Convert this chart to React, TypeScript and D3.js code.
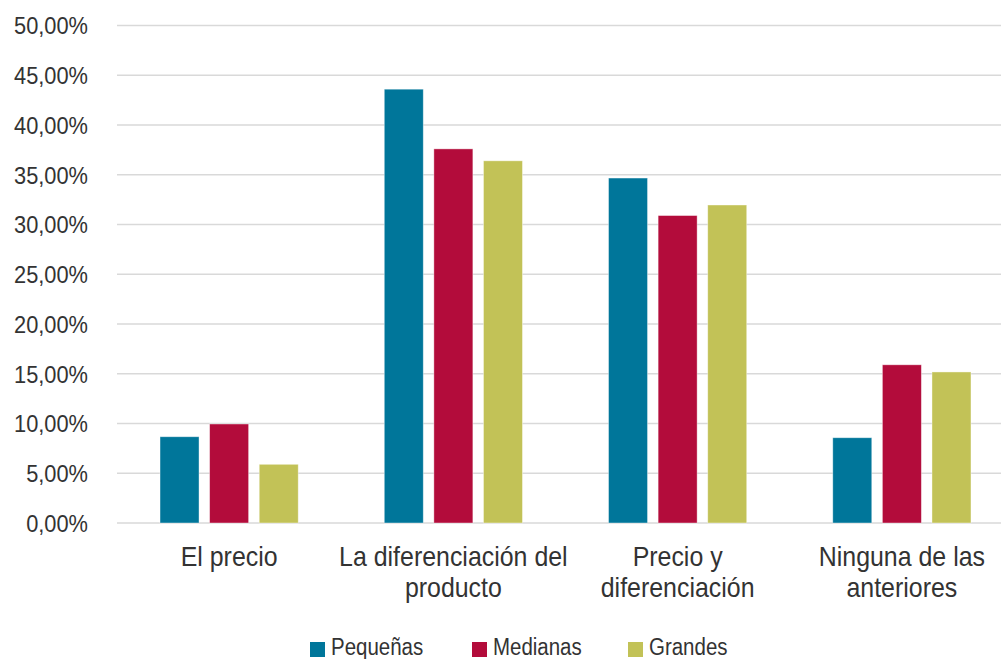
import React from "react";
import * as d3 from "d3";

const categories: string[][] = [
  ["El precio"],
  ["La diferenciación del", "producto"],
  ["Precio y", "diferenciación"],
  ["Ninguna de las", "anteriores"],
];
const seriesNames = ["Pequeñas", "Medianas", "Grandes"];
const pequenas = [0.0867, 0.436, 0.3467, 0.0857];
const medianas = [0.0995, 0.376, 0.309, 0.159];
const grandes = [0.059, 0.364, 0.3196, 0.1518];
const seriesValues = [pequenas, medianas, grandes];
const colors = ["#00769A", "#B30C3B", "#C2C257"];
const yTicks = [0, 0.05, 0.1, 0.15, 0.2, 0.25, 0.3, 0.35, 0.4, 0.45, 0.5];

const W = 1001;
const H = 659;
const plotLeft = 117;
const plotRight = 1014;
const plotTop = 25.5;
const plotBottom = 523;
const font = "'Liberation Sans', Arial, sans-serif";
const textColor = "#333333";
// condensed look: squeeze glyphs horizontally
const squeeze = 0.89;

function CText(props: {
  x: number;
  y: number;
  size: number;
  anchor?: "start" | "middle" | "end";
  dy?: string;
  children: React.ReactNode;
}) {
  return (
    <text
      transform={`translate(${props.x},${props.y}) scale(${squeeze},1)`}
      textAnchor={props.anchor || "start"}
      dy={props.dy}
      fontSize={props.size}
      fill={textColor}
    >
      {props.children}
    </text>
  );
}

export default function App() {
  const x0 = d3
    .scaleBand<number>()
    .domain(categories.map((_, i) => i))
    .range([plotLeft, plotRight])
    .padding(0);
  const groupW = 138.2;
  const x1 = d3
    .scaleBand<number>()
    .domain(seriesNames.map((_, i) => i))
    .range([0, groupW])
    .paddingInner(0.2137)
    .paddingOuter(0);
  const y = d3.scaleLinear().domain([0, 0.5]).range([plotBottom, plotTop]);
  const fmt = (v: number) => (v * 100).toFixed(2).replace(".", ",") + "%";

  const legendX = [310, 472, 628];

  return (
    <svg
      width={W}
      height={H}
      style={{ position: "absolute", left: 0, top: 0, background: "#fff" }}
      fontFamily={font}
    >
      {yTicks.map((t) => (
        <g key={t}>
          <line
            x1={plotLeft}
            x2={plotRight}
            y1={y(t)}
            y2={y(t)}
            stroke="#d9d9d9"
            strokeWidth={1.6}
          />
          <CText x={88} y={y(t)} dy="0.36em" anchor="end" size={24.5}>
            {fmt(t)}
          </CText>
        </g>
      ))}
      {categories.map((cat, ci) => {
        const gx = (x0(ci) as number) + (x0.bandwidth() - groupW) / 2;
        return (
          <g key={ci}>
            {seriesValues.map((vals, si) => (
              <rect
                key={si}
                x={gx + (x1(si) as number)}
                y={y(vals[ci])}
                width={x1.bandwidth()}
                height={plotBottom - y(vals[ci])}
                fill={colors[si]}
                stroke="#ffffff"
                strokeOpacity={0.5}
                strokeWidth={0.8}
              />
            ))}
            {cat.map((line, li) => (
              <CText
                key={li}
                x={(x0(ci) as number) + x0.bandwidth() / 2}
                y={566 + li * 31}
                anchor="middle"
                size={28}
              >
                {line}
              </CText>
            ))}
          </g>
        );
      })}
      {seriesNames.map((name, si) => (
        <g key={name}>
          <rect x={legendX[si]} y={642} width={15} height={15} fill={colors[si]} />
          <CText x={legendX[si] + 21} y={655} size={23}>
            {name}
          </CText>
        </g>
      ))}
    </svg>
  );
}
